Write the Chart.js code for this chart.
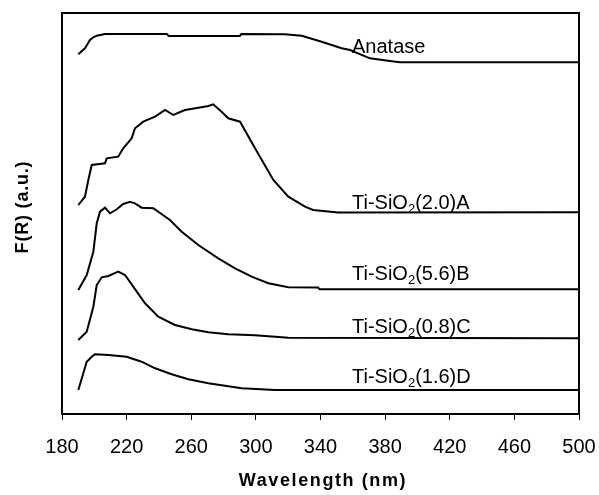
<!DOCTYPE html>
<html><head><meta charset="utf-8">
<script src="https://cdn.jsdelivr.net/npm/chart.js@4/dist/chart.umd.min.js"></script>
<style>html,body{margin:0;padding:0;background:#fff}</style>
</head><body>
<canvas id="c" width="599" height="495"></canvas>
<script>
const xTickValues = [180, 220, 260, 300, 340, 380, 420, 460, 500];

const anataseX = [190.1, 191.8, 194.2, 196.3, 197.3, 199.4, 201.5, 206.6, 245, 246, 290, 291, 318, 328.4, 340.7, 353.1, 358.3, 370.6, 383, 389.2, 500];
const anataseY = [358.7, 361.3, 364.7, 370.3, 373, 375.7, 377.3, 379, 379, 377, 377, 379, 378.7, 377.3, 371.3, 364.7, 363, 354.7, 352, 350.7, 350.7];

const seriesAX = [190.1, 194.2, 196.3, 198.4, 206.6, 207.7, 214.8, 217.9, 223.1, 225.2, 230.3, 237.6, 243.8, 248.9, 256.1, 264.4, 270.6, 273.6, 278.8, 282.9, 290.2, 299.5, 310.8, 320.1, 330.4, 335.4, 351, 500];
const seriesAY = [208, 216.3, 233, 248, 249.7, 254.7, 256.3, 264.7, 274.7, 284.7, 291.3, 296.3, 303, 298, 303, 305.3, 307, 308.7, 301.3, 294.7, 291.3, 264.7, 233, 216.3, 206.3, 203, 200.5, 200.7];

const seriesBX = [190.1, 195.3, 199.4, 201.5, 203.5, 206.6, 209.7, 213.9, 217.9, 222.1, 225.2, 229.3, 236.5, 246.8, 254.1, 264.4, 276.7, 287.1, 297.4, 307.7, 320.1, 338.5, 339.5, 500];
const seriesBY = [123, 138, 161.3, 189.7, 201.3, 205.3, 199.7, 203.7, 209, 211.3, 209.7, 205.3, 204.7, 193, 181.3, 168, 154.7, 144.7, 136.3, 129.7, 125.7, 125.5, 123.7, 123.7];

const seriesCX = [190.1, 195.3, 199.4, 201.5, 204.6, 208.7, 214.8, 219, 224.1, 231.4, 239.6, 249.9, 260.3, 270.6, 282.9, 299.5, 320.1, 500];
const seriesCY = [73, 81.3, 106.3, 128, 135.7, 137, 141.3, 138, 126.3, 109.7, 96.3, 88, 83.7, 80.7, 78.7, 77.7, 75.3, 74.7];

const seriesDX = [190.1, 195.3, 198.4, 200.4, 208.7, 220, 229.3, 237.6, 247.9, 258.2, 270.6, 291.2, 311.8, 500];
const seriesDY = [23, 51.3, 56.3, 58.7, 58, 56.3, 51.3, 44.7, 38.7, 33.7, 29.7, 24.7, 23, 23];

const labelNames = [["Anatase", "", ""], ["Ti-SiO", "2", "(2.0)A"], ["Ti-SiO", "2", "(5.6)B"], ["Ti-SiO", "2", "(0.8)C"], ["Ti-SiO", "2", "(1.6)D"]];
const labelX = [359.5, 359.5, 359.5, 359.5, 359.5];
const labelY = [360.3, 204.5, 133, 79.7, 29.7];

function pts(xs, ys) { return xs.map((x, i) => ({x: x, y: ys[i]})); }
function ds(xs, ys) {
  return {data: pts(xs, ys), borderColor: '#000', borderWidth: 2, pointRadius: 0, tension: 0, fill: false};
}

const FONT = '"Liberation Sans", Arial, sans-serif';

const decor = {
  id: 'decor',
  afterDraw(chart) {
    const ctx = chart.ctx, a = chart.chartArea;
    const xs = chart.scales.x, ys = chart.scales.y;
    ctx.save();
    ctx.strokeStyle = '#000';
    ctx.lineWidth = 2;
    ctx.strokeRect(a.left, a.top, a.right - a.left, a.bottom - a.top);
    ctx.fillStyle = '#000';
    ctx.textBaseline = 'alphabetic';
    ctx.textAlign = 'left';
    for (let i = 0; i < labelNames.length; i++) {
      let px = xs.getPixelForValue(labelX[i]);
      const py = ys.getPixelForValue(labelY[i]);
      const [p1, sub, p2] = labelNames[i];
      ctx.font = '20px ' + FONT;
      ctx.fillText(p1, px, py);
      px += ctx.measureText(p1).width;
      if (sub) {
        ctx.font = '13px ' + FONT;
        ctx.fillText(sub, px, py + 4);
        px += ctx.measureText(sub).width;
        ctx.font = '20px ' + FONT;
        ctx.fillText(p2, px, py);
      }
    }
    ctx.font = 'bold 18px ' + FONT;
    try { ctx.letterSpacing = '1.6px'; } catch (e) {}
    ctx.textAlign = 'center';
    ctx.textBaseline = 'middle';
    ctx.fillText('Wavelength (nm)', 323, 481);
    try { ctx.letterSpacing = '0.8px'; } catch (e) {}
    ctx.translate(23, 207);
    ctx.rotate(-Math.PI / 2);
    ctx.fillText('F(R) (a.u.)', 0, 0);
    ctx.restore();
  }
};

new Chart(document.getElementById('c'), {
  type: 'line',
  data: {datasets: [ds(anataseX, anataseY), ds(seriesAX, seriesAY), ds(seriesBX, seriesBY), ds(seriesCX, seriesCY), ds(seriesDX, seriesDY)]},
  options: {
    responsive: false,
    animation: false,
    events: [],
    layout: {padding: {left: 0, right: 20, top: 13, bottom: 0}},
    plugins: {legend: {display: false}, tooltip: {enabled: false}, title: {display: false}},
    scales: {
      x: {
        type: 'linear', min: 180, max: 500,
        afterFit(s) { s.height = 81; s.paddingLeft = 0; s.paddingRight = 0; s.paddingTop = 0; s.paddingBottom = 0; },
        afterBuildTicks(s) { s.ticks = xTickValues.map(v => ({value: v})); },
        border: {display: false},
        grid: {drawOnChartArea: false, drawTicks: true, tickLength: 6, color: '#000', lineWidth: 1},
        ticks: {color: '#000', font: {family: FONT, size: 20}, padding: 15, maxRotation: 0, autoSkip: false}
      },
      y: {
        type: 'linear', min: -1, max: 400,
        afterFit(s) { s.width = 62; s.paddingTop = 0; s.paddingBottom = 0; s.paddingLeft = 0; s.paddingRight = 0; },
        border: {display: false},
        grid: {display: false},
        ticks: {display: false}
      }
    }
  },
  plugins: [decor]
});
</script>
</body></html>
